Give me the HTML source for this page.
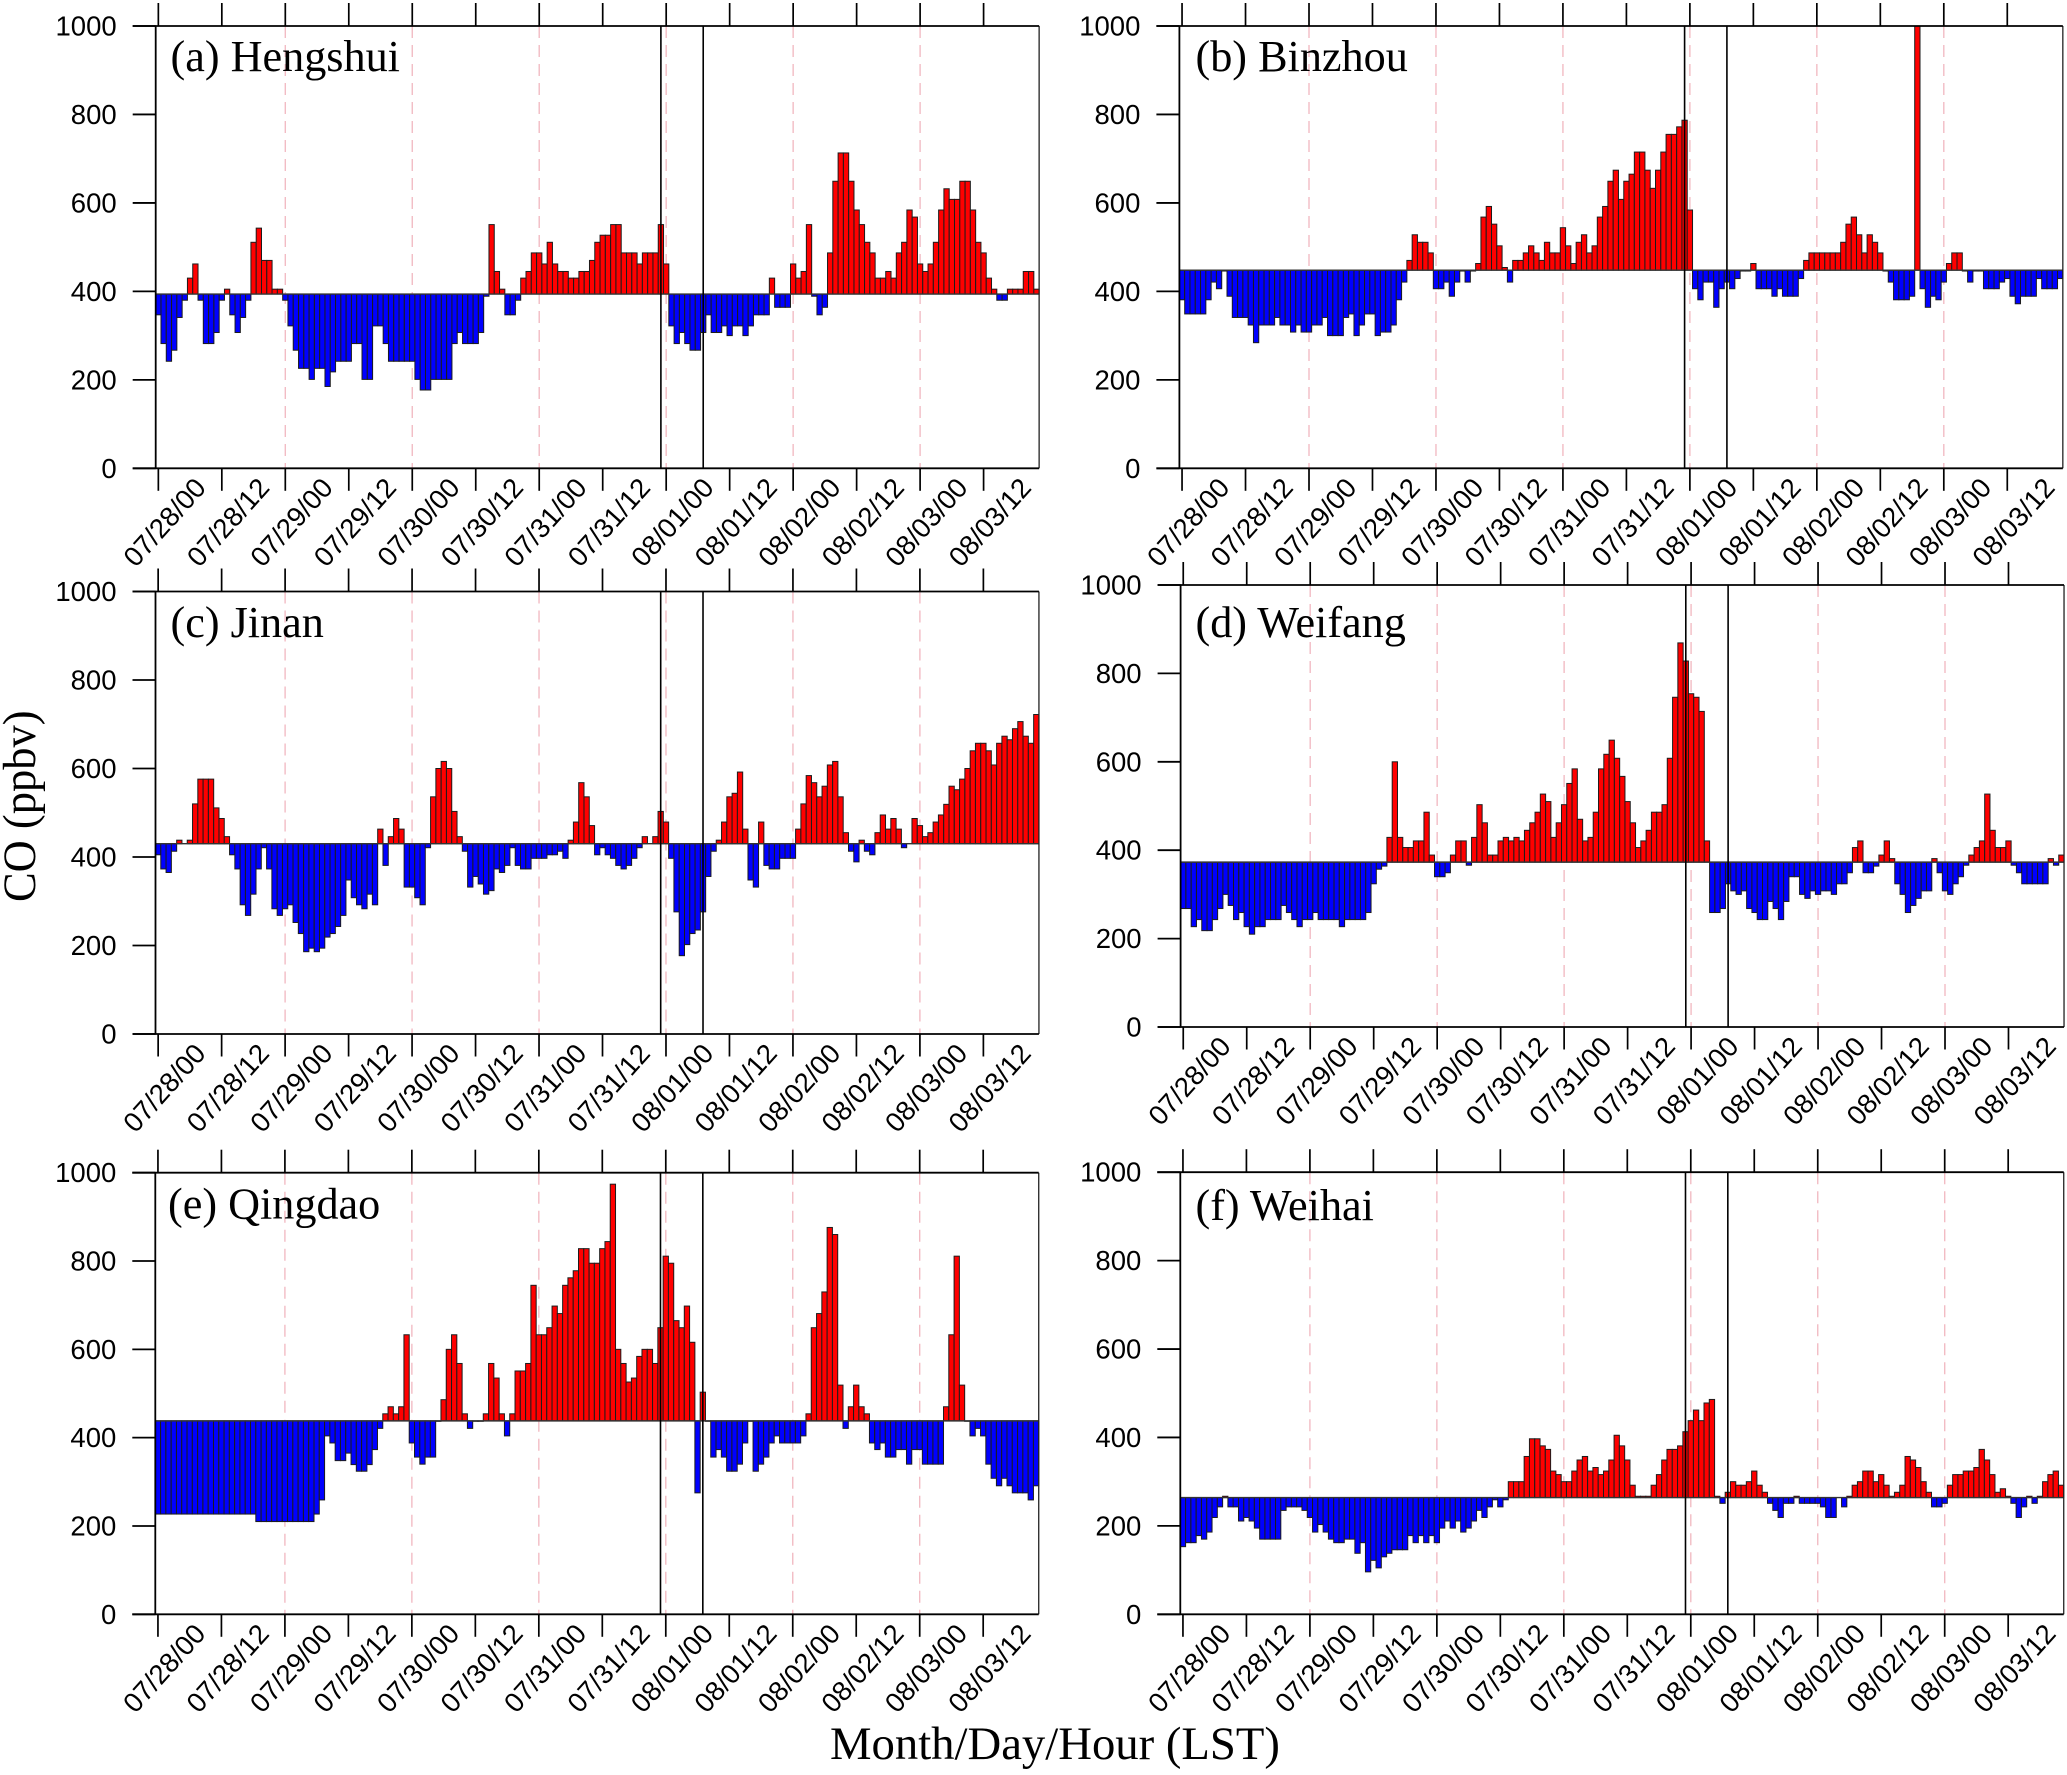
<!DOCTYPE html>
<html lang="en">
<head>
<meta charset="utf-8">
<title>CO (ppbv) time series at six cities</title>
<style>
html,body{margin:0;padding:0;background:#fff;}
svg{display:block;}
</style>
</head>
<body>
<svg id="chart" xmlns="http://www.w3.org/2000/svg" width="2067" height="1775" viewBox="0 0 2067 1775">
<rect x="0" y="0" width="2067" height="1775" fill="#ffffff"/>
<text transform="translate(35,902) rotate(-90) scale(1,1.05)" font-family="'Liberation Serif',serif" font-size="44.5" fill="#000">CO (ppbv)</text>
<text x="830" y="1759" font-family="'Liberation Serif',serif" font-size="46.7" fill="#000">Month/Day/Hour (LST)</text>
</svg>
<script>
const tickLabels = ["07/28/00","07/28/12","07/29/00","07/29/12","07/30/00","07/30/12","07/31/00","07/31/12","08/01/00","08/01/12","08/02/00","08/02/12","08/03/00","08/03/12"];
const yTicks = [0,200,400,600,800,1000];
const eventHours = [95,103];

const hengshui = [
347,282,242,267,341,380,430,462,380,282,
282,307,380,405,347,307,341,380,511,543,
470,470,405,405,380,322,267,226,226,201,
226,226,185,218,242,242,242,282,282,201,
201,322,322,282,242,242,242,242,242,201,
177,177,201,201,201,201,282,307,282,282,
282,307,389,551,445,405,347,347,380,430,
445,487,487,462,511,462,445,445,430,430,
445,445,470,511,527,527,551,551,487,487,
487,462,487,487,487,551,462,322,282,307,
282,267,267,307,347,307,307,322,300,322,
322,300,322,347,347,347,430,364,364,364,
462,430,445,551,389,347,364,487,649,713,
713,649,584,551,511,487,430,430,445,430,
487,511,584,568,462,445,462,511,584,632,
608,608,649,649,584,511,487,430,405,380,
380,405,405,405,445,445,405];
const binzhou = [
381,349,349,349,349,381,421,406,446,389,
341,341,341,324,284,324,324,324,341,324,
324,308,324,308,308,324,324,341,300,300,
300,341,349,300,324,349,349,300,308,308,
324,381,421,470,528,511,511,487,406,406,
421,389,421,446,421,446,463,568,592,552,
503,454,421,470,470,487,503,487,470,511,
487,487,544,503,463,511,528,487,503,568,
592,649,674,608,649,665,715,715,674,633,
674,715,755,755,772,787,584,406,381,421,
421,364,406,421,406,429,446,446,463,406,
406,406,389,406,389,389,389,429,470,487,
487,487,487,487,487,511,552,568,528,487,
528,511,487,446,421,381,381,381,389,1000,
406,364,389,381,421,463,487,487,446,421,
446,446,406,406,406,421,429,389,372,389,
389,389,429,406,406,406,429];
const jinan = [
405,373,365,413,438,430,438,520,576,576,
576,511,487,446,405,373,292,268,316,373,
421,373,283,268,283,292,252,227,186,194,
186,194,219,227,243,268,348,308,292,283,
316,292,463,381,446,487,463,332,332,308,
292,421,536,600,616,600,503,446,413,332,
356,339,316,324,373,365,381,421,381,373,
373,397,397,397,405,405,413,397,438,479,
568,536,471,405,421,405,397,381,373,381,
397,421,446,430,446,503,479,397,276,177,
202,227,235,276,356,413,438,479,536,544,
592,463,348,332,479,381,373,373,397,397,
397,463,520,584,568,536,560,608,616,536,
455,413,389,438,413,405,455,495,463,487,
463,421,430,487,471,446,455,479,495,519,
560,552,576,600,640,657,657,640,608,657,
673,665,690,706,673,657,722];
const weifang = [
268,268,227,243,218,218,243,268,300,275,
243,259,227,210,227,227,243,243,243,275,
259,243,227,243,243,259,243,243,243,243,
227,243,243,243,243,259,324,357,364,429,
600,429,406,406,421,421,486,389,340,340,
349,389,421,421,366,429,503,462,389,389,
421,429,421,429,421,445,462,486,527,510,
429,462,503,551,584,470,421,429,486,584,
617,649,608,567,510,462,406,421,445,486,
486,503,608,746,869,828,754,746,714,421,
259,259,268,324,308,300,308,268,259,243,
243,284,268,243,284,340,340,300,291,308,
300,308,308,300,324,324,349,406,421,349,
349,364,389,421,381,324,300,259,275,291,
308,308,381,349,308,300,324,340,366,389,
406,421,527,445,406,406,421,366,349,324,
324,324,324,324,381,366,389];
const qingdao = [
227,227,227,227,227,227,227,227,227,227,
227,227,227,227,227,227,227,227,227,210,
210,210,210,210,210,210,210,210,210,210,
227,259,404,388,348,348,365,339,324,324,
339,373,421,454,470,454,470,633,388,356,
340,356,356,437,486,600,633,568,454,421,
437,437,454,568,535,454,404,454,551,551,
568,745,633,633,649,698,681,745,762,778,
828,828,795,795,828,844,974,600,568,526,
535,584,600,600,568,649,811,795,665,649,
698,616,275,503,437,356,373,356,324,324,
340,388,437,324,340,356,388,404,388,388,
388,388,404,454,649,681,730,876,860,519,
421,470,519,470,454,388,373,388,356,356,
373,373,340,373,373,340,340,340,340,470,
633,811,519,437,404,421,404,340,308,291,
308,291,275,275,275,259,291];
const weihai = [
153,162,162,178,170,186,219,243,267,243,
243,211,219,211,195,170,170,170,170,235,
243,243,243,235,219,186,203,186,170,162,
162,170,170,138,162,96,122,105,130,138,
146,146,146,178,162,178,162,178,162,195,
211,195,211,186,195,211,235,219,243,259,
243,259,300,300,300,357,397,397,381,373,
324,316,300,300,324,349,357,324,332,316,
324,349,405,381,349,292,267,267,267,292,
316,349,373,373,381,413,438,462,438,478,
486,267,251,276,300,292,292,300,324,292,
276,251,235,219,251,251,267,251,251,251,
251,243,219,219,264,243,267,292,300,324,
324,300,316,292,267,276,292,357,349,332,
300,276,243,243,251,292,316,316,324,324,
332,373,349,316,276,284,267,251,219,243,
267,251,267,300,316,324,292];

const baseHengshui = 394;
const baseBinzhou = 448;
const baseJinan = 430;
const baseWeifang = 373;
const baseQingdao = 438;
const baseWeihai = 264;

const panels = [
  {key:'hengshui', title:'(a) Hengshui', values:hengshui, base:baseHengshui, left:155.7, top:26, bottom:468.3, tx:170.5, ty:71},
  {key:'binzhou',  title:'(b) Binzhou',  values:binzhou,  base:baseBinzhou,  left:1179.4, top:26, bottom:468.3, tx:1195.5, ty:71},
  {key:'jinan',    title:'(c) Jinan',    values:jinan,    base:baseJinan,    left:155.5, top:591.5, bottom:1034, tx:170.5, ty:637},
  {key:'weifang',  title:'(d) Weifang',  values:weifang,  base:baseWeifang,  left:1180.6, top:585, bottom:1027, tx:1195.5, ty:637},
  {key:'qingdao',  title:'(e) Qingdao',  values:qingdao,  base:baseQingdao,  left:155.3, top:1172.7, bottom:1614.3, tx:168, ty:1218.5},
  {key:'weihai',   title:'(f) Weihai',   values:weihai,   base:baseWeihai,   left:1180.3, top:1172.2, bottom:1614.3, tx:1195.5, ty:1220}
];

const NS = 'http://www.w3.org/2000/svg';
const svg = document.getElementById('chart');
const HOUR_W = 5.29;
const SANS = "'Liberation Sans',Arial,sans-serif";
const SERIF = "'Liberation Serif',serif";

function make(tag, attrs, parent) {
  const e = document.createElementNS(NS, tag);
  for (const k in attrs) e.setAttribute(k, attrs[k]);
  parent.appendChild(e);
  return e;
}

panels.forEach(function (p) {
  const g = make('g', {}, svg);
  
  

  const n = p.values.length;
  const right = p.left + n * HOUR_W;
  const xEdge = function (i) { return p.left + i * HOUR_W; };
  const xHour = function (h) { return p.left + (h + 0.5) * HOUR_W; };
  const yVal = function (v) { return p.bottom - Math.min(v, 1000) / 1000 * (p.bottom - p.top); };

  // dashed day guides
  tickLabels.forEach(function (lab, k) {
    if (k === 0 || k % 2 !== 0) return;
    const gx = make('line', {x1:xHour(12 * k), x2:xHour(12 * k), y1:p.top, y2:p.bottom, stroke:'#f2bcc4', 'stroke-width':1.4, 'stroke-dasharray':'12 7'}, g);
    
    
  });

  // bars
  p.values.forEach(function (v, i) {
    if (v === p.base) return;
    const yv = yVal(v), yb = yVal(p.base);
    const r = make('rect', {x:xEdge(i), width:HOUR_W, y:Math.min(yv, yb), height:Math.abs(yb - yv), fill:v > p.base ? '#ff0000' : '#0000ff', stroke:'#1c1c1c', 'stroke-width':1}, g);
    
    
  });

  // baseline
  const bl = make('line', {x1:p.left, x2:right, y1:yVal(p.base), y2:yVal(p.base), stroke:'#333', 'stroke-width':1.4}, g);
  
  

  // event lines
  eventHours.forEach(function (h) {
    const vl = make('line', {x1:xHour(h), x2:xHour(h), y1:p.top, y2:p.bottom, stroke:'#000', 'stroke-width':1.6}, g);
    
    
  });

  // frame
  const fl = make('line', {x1:p.left, x2:p.left, y1:p.top, y2:p.bottom, stroke:'#000', 'stroke-width':1.8}, g);
  
  
  const fr = make('line', {x1:right, x2:right, y1:p.top, y2:p.bottom, stroke:'#222', 'stroke-width':1.3}, g);
  
  
  const ft = make('line', {x1:p.left - 23, x2:right, y1:p.top, y2:p.top, stroke:'#000', 'stroke-width':1.8}, g);
  
  
  const fb = make('line', {x1:p.left - 23, x2:right, y1:p.bottom, y2:p.bottom, stroke:'#000', 'stroke-width':1.8}, g);
  
  

  // y ticks
  yTicks.forEach(function (v) {
    const t = make('line', {x1:p.left - 23, x2:p.left, y1:yVal(v), y2:yVal(v), stroke:'#000', 'stroke-width':1.8}, g);
    
    
    const l = make('text', {x:p.left - 39, y:yVal(v) + 9.5, 'text-anchor':'end', 'font-family':SANS, 'font-size':27.5, fill:'#000'}, g);
    l.textContent = String(v);
    
    
  });

  // x ticks
  tickLabels.forEach(function (lab, k) {
    const x = xHour(12 * k);
    const tb = make('line', {x1:x, x2:x, y1:p.bottom, y2:p.bottom + 22.5, stroke:'#000', 'stroke-width':1.7}, g);
    
    
    const tt = make('line', {x1:x, x2:x, y1:p.top - 23, y2:p.top, stroke:'#000', 'stroke-width':1.7}, g);
    
    
    const l = make('text', {transform:'translate(' + (x + 49) + ',' + (p.bottom + 20.5) + ') rotate(-48)', 'text-anchor':'end', 'font-family':SANS, 'font-size':27.5, fill:'#000'}, g);
    l.textContent = lab;
    
    
  });

  // title
  const ttl = make('text', {x:p.tx, y:p.ty, 'font-family':SERIF, 'font-size':44.2, fill:'#000'}, g);
  ttl.textContent = p.title;
  
  
});
</script>
</body>
</html>
